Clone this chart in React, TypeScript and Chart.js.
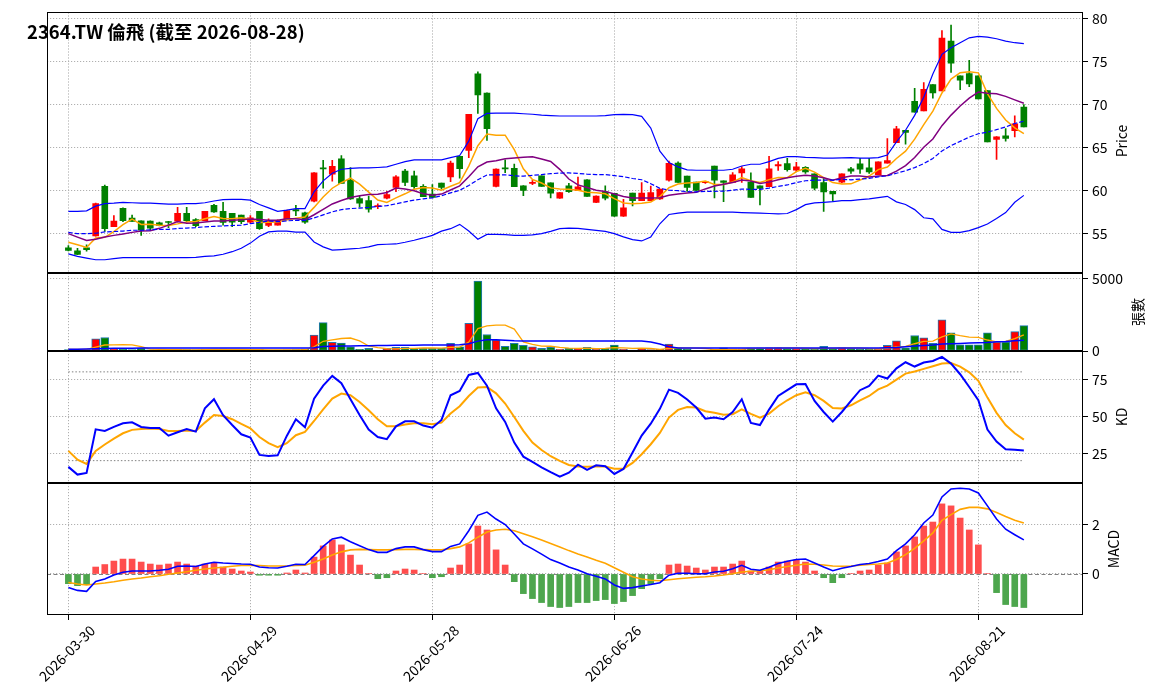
import { useEffect, useRef } from 'react';
import { Chart, registerables } from 'chart.js';

Chart.register(...registerables);

// ---- values ----
const TICKER = '2364.TW';
const NAME = '倫飛';
const START_DATE = '2026-03-30';
const HOLIDAYS = ['2026-04-03', '2026-04-06', '2026-05-01', '2026-06-19'];
const SESSIONS = 106;

function tradingDays(): string[] {
  const out: string[] = [];
  const d = new Date(START_DATE + 'T00:00:00Z');
  while (out.length < SESSIONS) {
    const iso = d.toISOString().slice(0, 10);
    const wd = d.getUTCDay();
    if (wd !== 0 && wd !== 6 && !HOLIDAYS.includes(iso)) out.push(iso);
    d.setUTCDate(d.getUTCDate() + 1);
  }
  return out;
}
const dates = tradingDays();

const opens = [
  53.35, 53.0, 53.35, 54.73, 60.5, 55.8, 57.96, 56.8, 56.5, 56.46,
  56.27, 56.4, 56.46, 57.38, 56.65, 56.5, 58.3, 57.6, 57.38, 57.15,
  56.35, 57.6, 55.96, 56.0, 56.65, 57.8, 57.42, 58.77, 62.65, 61.92,
  63.7, 61.27, 59.08, 58.85, 58.15, 59.12, 60.38, 62.3, 61.73, 60.5,
  59.6, 60.88, 61.6, 64.0, 64.7, 73.6, 71.38, 60.49, 62.6, 62.6,
  60.58, 60.85, 61.73, 60.92, 59.12, 60.58, 60.0, 61.27, 58.65, 59.88,
  59.7, 57.04, 59.73, 58.85, 58.85, 59.04, 61.23, 63.23, 61.7, 61.0,
  60.95, 62.88, 61.15, 60.96, 62.08, 61.0, 60.58, 60.46, 62.9, 63.15,
  62.38, 62.73, 61.96, 60.96, 59.92, 61.0, 62.54, 63.12, 62.65, 61.88,
  63.2, 65.58, 67.04, 70.42, 69.3, 72.35, 71.62, 77.42, 73.38, 73.65,
  73.38, 71.65, 65.96, 66.38, 67.0, 69.73,
];
const highs = [
  53.6, 53.3, 53.7, 58.55, 60.65, 57.1, 58.0, 57.15, 56.5, 56.5,
  56.35, 56.45, 58.08, 58.08, 56.77, 57.6, 58.42, 58.65, 57.38, 57.15,
  57.1, 57.6, 56.73, 56.6, 57.75, 58.3, 57.5, 62.1, 63.54, 63.54,
  64.1, 62.7, 59.38, 59.38, 58.46, 59.92, 61.77, 62.5, 62.3, 60.7,
  60.7, 60.9, 63.46, 64.0, 68.9, 73.85, 71.4, 62.55, 63.6, 63.1,
  60.6, 61.2, 61.73, 60.92, 59.8, 60.85, 61.6, 61.3, 59.4, 60.58,
  59.7, 59.0, 59.73, 60.96, 60.54, 60.2, 63.46, 63.35, 61.7, 61.0,
  61.1, 62.88, 61.15, 62.1, 62.8, 62.08, 60.58, 64.0, 63.4, 63.77,
  63.3, 62.8, 61.96, 61.46, 59.92, 61.96, 62.73, 63.77, 63.77, 63.35,
  66.08, 67.5, 67.04, 71.92, 72.58, 72.35, 78.65, 79.27, 73.38, 75.19,
  73.38, 71.65, 66.3, 67.23, 68.73, 70.04,
];
const lows = [
  53.0, 52.55, 52.96, 54.7, 55.27, 55.8, 56.4, 56.42, 54.8, 55.4,
  55.9, 55.7, 56.35, 56.4, 55.8, 56.5, 57.46, 56.0, 55.8, 56.15,
  56.2, 55.5, 55.8, 56.0, 56.6, 57.1, 56.2, 58.7, 60.3, 61.1,
  60.85, 59.0, 58.08, 57.5, 57.92, 59.04, 59.88, 60.58, 60.27, 59.3,
  59.2, 60.19, 61.04, 61.46, 63.85, 69.0, 65.85, 60.45, 62.1, 60.46,
  59.42, 60.7, 60.5, 59.15, 59.1, 59.8, 60.0, 59.35, 58.6, 58.92,
  57.0, 57.0, 58.23, 58.85, 58.85, 59.0, 61.1, 60.96, 59.92, 60.04,
  60.85, 59.15, 58.73, 60.96, 60.96, 59.23, 58.35, 60.46, 62.35, 62.27,
  62.23, 62.0, 60.1, 57.6, 58.77, 60.9, 62.0, 62.0, 62.0, 61.88,
  63.2, 65.58, 65.42, 69.15, 69.3, 70.77, 71.62, 73.77, 71.77, 72.12,
  70.69, 65.69, 63.65, 65.77, 66.27, 67.42,
];
const closes = [
  53.04, 52.58, 53.15, 58.5, 55.58, 56.46, 56.5, 56.42, 55.42, 55.65,
  55.96, 56.3, 57.38, 56.5, 55.92, 57.6, 57.54, 56.3, 56.35, 56.4,
  56.85, 55.58, 56.46, 56.54, 57.7, 57.65, 56.35, 62.08, 62.54, 62.85,
  60.85, 59.04, 58.54, 57.85, 58.25, 59.54, 61.62, 60.96, 60.46, 59.3,
  59.23, 60.38, 63.23, 62.58, 68.88, 71.15, 67.23, 62.53, 62.54, 60.46,
  60.04, 60.95, 60.5, 59.7, 59.77, 59.88, 60.46, 59.35, 59.38, 59.12,
  57.04, 58.0, 58.85, 59.73, 59.77, 60.2, 63.2, 60.96, 60.38, 60.04,
  61.0, 61.23, 60.96, 61.85, 62.54, 59.23, 60.27, 62.54, 63.05, 62.46,
  62.77, 62.2, 60.3, 59.85, 59.62, 61.96, 62.27, 62.5, 62.2, 63.35,
  63.5, 67.2, 66.8, 69.15, 71.8, 71.38, 77.77, 74.85, 72.88, 72.42,
  70.69, 65.69, 66.27, 66.08, 67.8, 67.42,
];
const ma5 = [
  54.0, 53.7, 53.4, 54.5, 54.57, 55.25, 56.04, 56.69, 56.08, 56.09,
  55.99, 55.95, 56.14, 56.36, 56.41, 56.74, 56.99, 56.77, 56.74, 56.84,
  56.69, 56.3, 56.33, 56.37, 56.63, 56.79, 56.94, 58.06, 59.26, 60.29,
  60.93, 61.47, 60.76, 59.83, 58.91, 58.64, 59.16, 59.64, 60.17, 60.38,
  60.31, 60.07, 60.52, 60.94, 62.86, 65.24, 66.61, 66.47, 66.47, 64.78,
  62.56, 61.3, 60.9, 60.33, 60.19, 60.16, 60.06, 59.83, 59.77, 59.64,
  59.07, 58.58, 58.48, 58.55, 58.68, 59.31, 60.35, 60.77, 60.9, 60.96,
  61.12, 60.72, 60.72, 61.02, 61.52, 61.16, 60.97, 61.29, 61.53, 61.51,
  62.22, 62.6, 62.16, 61.52, 60.95, 60.79, 60.8, 61.24, 61.71, 62.46,
  62.76, 63.75, 64.61, 66.0, 67.69, 69.27, 71.38, 72.99, 73.74, 73.86,
  73.72, 71.31, 69.59, 68.23, 67.31, 66.65,
];
const ma10 = [
  55.0, 54.6, 54.2, 54.35, 54.6, 54.8, 54.95, 55.15, 55.3, 55.33,
  55.62, 55.99, 56.42, 56.22, 56.25, 56.37, 56.47, 56.46, 56.55, 56.63,
  56.71, 56.64, 56.55, 56.55, 56.73, 56.74, 56.62, 57.2, 57.82, 58.46,
  58.86, 59.21, 59.41, 59.55, 59.6, 59.79, 60.32, 60.2, 60.0, 59.64,
  59.48, 59.61, 60.08, 60.56, 61.62, 62.78, 63.34, 63.5, 63.71, 63.82,
  63.9, 63.96, 63.69, 63.4, 62.49, 61.36, 60.68, 60.37, 60.05, 59.92,
  59.62, 59.32, 59.16, 59.16, 59.16, 59.19, 59.46, 59.63, 59.73, 59.82,
  60.21, 60.54, 60.75, 60.96, 61.24, 61.14, 60.85, 61.0, 61.27, 61.51,
  61.69, 61.79, 61.72, 61.52, 61.23, 61.5, 61.7, 61.7, 61.61, 61.7,
  61.78, 62.28, 62.93, 63.86, 65.07, 66.02, 67.57, 68.8, 69.87, 70.78,
  71.49, 71.34, 71.29, 70.98, 70.58, 70.19,
];
const ma20 = [
  55.15, 55.0, 55.0, 55.05, 55.2, 55.25, 55.3, 55.4, 55.4, 55.45,
  55.5, 55.5, 55.6, 55.65, 55.7, 55.8, 55.85, 55.9, 55.95, 55.98,
  56.17, 56.32, 56.48, 56.39, 56.49, 56.55, 56.54, 56.83, 57.18, 57.54,
  57.79, 57.92, 57.98, 58.05, 58.17, 58.26, 58.47, 58.7, 58.91, 59.05,
  59.17, 59.41, 59.75, 60.05, 60.61, 61.28, 61.83, 61.85, 61.85, 61.73,
  61.69, 61.79, 61.88, 61.98, 62.05, 62.07, 62.01, 61.93, 61.88, 61.87,
  61.76, 61.64, 61.42, 61.28, 60.82, 60.28, 60.07, 60.0, 59.89, 59.87,
  59.91, 59.93, 59.95, 60.06, 60.2, 60.16, 60.16, 60.31, 60.5, 60.67,
  60.95, 61.16, 61.23, 61.24, 61.23, 61.32, 61.27, 61.35, 61.44, 61.61,
  61.73, 62.03, 62.32, 62.69, 63.15, 63.76, 64.63, 65.25, 65.74, 66.24,
  66.63, 66.81, 67.11, 67.42, 67.83, 68.1,
];
const bbUpper = [
  57.6, 57.6, 57.65, 58.2, 58.5, 58.55, 58.65, 58.6, 58.55, 58.55,
  58.5, 58.45, 58.45, 58.5, 58.5, 58.6, 58.8, 58.96, 59.0, 59.0,
  58.9, 58.4, 58.0, 57.6, 57.73, 57.92, 57.92, 59.88, 61.15, 62.04,
  62.5, 62.6, 62.65, 62.65, 62.7, 62.77, 63.08, 63.38, 63.58, 63.6,
  63.6, 63.6, 63.85, 64.1, 65.77, 68.38, 69.0, 69.04, 69.04, 69.04,
  68.96, 68.9, 68.8, 68.75, 68.7, 68.7, 68.7, 68.7, 68.7, 68.75,
  68.85, 68.88, 68.85, 68.65, 67.3, 64.6, 63.27, 62.77, 62.42, 62.38,
  62.38, 62.38, 62.38, 62.5, 62.88, 63.08, 63.08, 63.38, 63.77, 63.96,
  63.96, 63.88, 63.85, 63.8, 63.8, 63.82, 63.85, 63.8, 63.8, 63.85,
  64.15, 65.69, 67.04, 68.77, 70.88, 73.58, 75.88, 76.65, 77.23, 77.8,
  77.96, 77.88, 77.69, 77.42, 77.23, 77.12,
];
const bbLower = [
  52.65, 52.35, 52.15, 51.96, 51.96, 52.1, 52.2, 52.2, 52.2, 52.2,
  52.2, 52.2, 52.2, 52.2, 52.25, 52.35, 52.42, 52.6, 52.9, 53.3,
  53.9, 54.7, 55.2, 55.3, 55.3, 55.19, 55.19, 54.04, 53.46, 53.08,
  53.15, 53.23, 53.3, 53.46, 53.73, 53.77, 53.8, 54.0, 54.23, 54.5,
  54.8, 55.3, 55.58, 56.08, 55.3, 54.35, 54.92, 54.92, 54.88, 54.8,
  54.8, 54.85, 55.0, 55.27, 55.58, 55.65, 55.62, 55.5, 55.38, 55.27,
  55.0, 54.62, 54.3, 54.15, 54.62, 56.15, 57.23, 57.38, 57.5, 57.5,
  57.5, 57.5, 57.5, 57.5, 57.46, 57.42, 57.38, 57.35, 57.3, 57.35,
  57.8, 58.38, 58.58, 58.65, 58.73, 58.85, 58.85, 58.96, 59.04, 59.2,
  59.35, 58.7, 58.4, 57.8, 56.85, 56.73, 55.5, 55.15, 55.15, 55.35,
  55.7, 56.12, 56.77, 57.46, 58.65, 59.46,
];

// 張數
const volumes = [
  90, 110, 100, 845, 935, 160, 120, 90, 180, 80,
  60, 70, 110, 100, 80, 120, 140, 130, 90, 70,
  60, 110, 70, 60, 80, 90, 130, 1094, 1960, 593,
  547, 296, 115, 180, 40, 180, 250, 250, 180, 180,
  180, 180, 525, 296, 1915, 4834, 1140, 752, 319, 525,
  388, 296, 180, 250, 115, 180, 180, 250, 115, 180,
  410, 115, 70, 180, 90, 115, 480, 205, 137, 30,
  20, 115, 228, 137, 137, 205, 205, 228, 228, 160,
  160, 160, 115, 320, 160, 228, 160, 115, 137, 115,
  388, 707, 228, 1070, 912, 525, 2166, 1254, 433, 433,
  433, 1254, 615, 615, 1345, 1755,
];
const volMa5 = [
  114, 114, 114, 274, 416, 430, 432, 430, 297, 126,
  106, 96, 100, 84, 84, 96, 110, 114, 112, 110,
  98, 92, 80, 74, 76, 78, 86, 291, 671, 773,
  865, 898, 702, 346, 236, 162, 153, 180, 180, 208,
  208, 194, 249, 272, 619, 1550, 1742, 1787, 1792, 1514,
  625, 456, 342, 328, 246, 204, 181, 195, 168, 181,
  227, 214, 178, 191, 173, 114, 187, 214, 205, 193,
  174, 101, 106, 106, 127, 164, 182, 182, 201, 205,
  196, 187, 165, 183, 183, 197, 197, 197, 160, 151,
  183, 292, 315, 502, 661, 688, 980, 1185, 1058, 962,
  944, 761, 634, 670, 852, 1117,
];
const volMa20 = [
  114, 120, 130, 150, 170, 182, 190, 195, 200, 205,
  205, 205, 205, 205, 205, 205, 205, 205, 205, 205,
  205, 205, 205, 205, 205, 205, 205, 228, 319, 330,
  342, 350, 360, 370, 380, 388, 400, 405, 405, 410,
  410, 410, 420, 433, 502, 684, 775, 775, 752, 707,
  690, 690, 690, 690, 690, 690, 690, 690, 690, 690,
  690, 690, 690, 690, 616, 479, 296, 205, 205, 205,
  205, 205, 205, 205, 205, 205, 205, 205, 205, 205,
  205, 205, 205, 205, 205, 205, 205, 205, 205, 205,
  228, 250, 296, 342, 388, 410, 479, 502, 524, 547,
  570, 593, 638, 661, 707, 752,
];

const kLine = [
  15.8, 10.6, 11.7, 41.2, 40.1, 42.8, 45.3, 45.9, 42.8, 42.1,
  42.1, 36.9, 39.2, 41.4, 39.6, 55.4, 61.5, 50.7, 44.1, 37.8,
  35.6, 23.9, 23.2, 23.6, 36.7, 48.0, 42.6, 61.9, 70.7, 77.3,
  72.3, 61.5, 50.9, 41.0, 36.0, 34.5, 43.2, 46.6, 46.6, 43.7,
  42.3, 47.5, 64.2, 67.1, 77.9, 79.3, 70.7, 55.4, 46.2, 32.2,
  22.7, 19.1, 15.5, 12.2, 9.2, 11.9, 17.3, 13.7, 16.9, 16.2,
  11.0, 14.4, 25.5, 36.9, 45.0, 55.0, 68.0, 65.8, 61.3, 55.9,
  48.4, 49.1, 48.0, 52.9, 61.5, 45.5, 44.1, 54.5, 63.7, 67.6,
  71.6, 71.8, 60.4, 52.9, 46.4, 52.9, 60.4, 67.6, 70.5, 77.5,
  75.5, 82.4, 86.5, 83.6, 86.3, 87.4, 90.1, 85.6, 78.4, 69.8,
  60.8, 41.0, 32.9, 27.7, 27.3, 26.8,
];
const dLine = [
  26.6, 20.7, 17.8, 26.6, 30.9, 34.9, 38.5, 40.8, 41.4, 41.7,
  41.4, 40.1, 40.1, 40.3, 40.1, 45.7, 50.9, 50.2, 48.0, 44.8,
  41.9, 36.0, 31.8, 29.1, 31.8, 37.2, 39.4, 46.8, 54.7, 61.9,
  65.3, 64.2, 59.7, 54.1, 48.0, 43.2, 43.2, 44.4, 45.3, 45.3,
  44.6, 45.7, 51.8, 56.8, 63.7, 69.4, 69.8, 65.5, 58.6, 49.5,
  40.1, 32.2, 27.2, 23.0, 19.8, 17.1, 16.0, 15.8, 16.0, 16.0,
  14.6, 14.6, 18.5, 24.3, 31.1, 38.7, 49.1, 54.3, 56.3, 55.9,
  53.4, 52.3, 51.1, 51.4, 54.7, 51.6, 49.1, 51.8, 56.8, 60.8,
  64.2, 66.2, 64.2, 60.4, 55.6, 55.2, 57.4, 60.8, 63.7, 68.2,
  70.7, 74.8, 78.8, 80.2, 82.0, 83.8, 85.6, 86.0, 83.6, 79.7,
  73.9, 62.6, 52.3, 44.1, 38.5, 34.2,
];
const kdLevels = [80, 20];

const dif = [
  -0.54, -0.66, -0.7, -0.3, -0.2, -0.04, 0.07, 0.12, 0.12, 0.12,
  0.15, 0.19, 0.31, 0.32, 0.3, 0.4, 0.47, 0.44, 0.42, 0.4,
  0.39, 0.28, 0.25, 0.24, 0.31, 0.39, 0.38, 0.74, 1.11, 1.41,
  1.48, 1.3, 1.14, 0.98, 0.87, 0.87, 1.02, 1.09, 1.09, 0.98,
  0.9, 0.9, 1.11, 1.21, 1.74, 2.36, 2.49, 2.21, 1.99, 1.61,
  1.21, 1.01, 0.8, 0.58, 0.44, 0.28, 0.16, 0.01, -0.09, -0.2,
  -0.44, -0.58, -0.55, -0.48, -0.42, -0.35, -0.05, 0.03, 0.03, 0.01,
  0.01, 0.08, 0.11, 0.21, 0.35, 0.19, 0.15, 0.27, 0.42, 0.51,
  0.58, 0.6, 0.44, 0.28, 0.13, 0.23, 0.3, 0.38, 0.42, 0.5,
  0.6, 0.94, 1.21, 1.58, 2.05, 2.37, 3.1, 3.42, 3.45, 3.42,
  3.26, 2.74, 2.21, 1.8, 1.58, 1.37,
];
const dea = [
  -0.34, -0.4, -0.44, -0.4, -0.36, -0.31, -0.25, -0.2, -0.16, -0.11,
  -0.07, -0.01, 0.04, 0.09, 0.15, 0.2, 0.24, 0.27, 0.31, 0.34,
  0.35, 0.34, 0.32, 0.32, 0.32, 0.34, 0.35, 0.47, 0.6, 0.76,
  0.89, 0.97, 0.99, 0.98, 0.97, 0.97, 0.98, 0.99, 0.99, 0.98,
  0.97, 0.97, 1.02, 1.09, 1.25, 1.48, 1.69, 1.77, 1.8, 1.74,
  1.62, 1.5, 1.37, 1.23, 1.09, 0.94, 0.8, 0.68, 0.55, 0.43,
  0.25, 0.07, -0.11, -0.2, -0.25, -0.27, -0.23, -0.19, -0.16, -0.13,
  -0.11, -0.08, -0.04, 0.01, 0.08, 0.11, 0.13, 0.17, 0.24, 0.3,
  0.35, 0.4, 0.39, 0.36, 0.32, 0.31, 0.32, 0.35, 0.38, 0.4,
  0.44, 0.58, 0.78, 1.03, 1.33, 1.65, 2.16, 2.39, 2.6, 2.68,
  2.68, 2.62, 2.47, 2.31, 2.16, 2.05,
];
const osc = [
  -0.39, -0.47, -0.43, 0.28, 0.38, 0.52, 0.6, 0.6, 0.48, 0.4,
  0.36, 0.4, 0.48, 0.4, 0.32, 0.4, 0.44, 0.28, 0.2, 0.12,
  0.08, -0.05, -0.05, -0.05, 0.04, 0.16, 0.04, 0.68, 1.13, 1.37,
  1.17, 0.76, 0.36, 0.02, -0.19, -0.15, 0.12, 0.2, 0.16, 0.02,
  -0.15, -0.11, 0.24, 0.36, 1.21, 1.93, 1.77, 0.97, 0.36, -0.31,
  -0.79, -0.99, -1.15, -1.31, -1.35, -1.31, -1.15, -1.15, -1.07, -1.03,
  -1.19, -1.11, -0.87, -0.59, -0.39, -0.19, 0.36, 0.4, 0.32, 0.24,
  0.16, 0.28, 0.28, 0.4, 0.52, 0.12, 0.12, 0.28, 0.48, 0.52,
  0.56, 0.48, 0.12, -0.15, -0.35, -0.15, 0.02, 0.12, 0.16, 0.36,
  0.44, 0.89, 1.13, 1.49, 1.93, 2.09, 2.82, 2.74, 2.25, 1.77,
  1.17, 0.02, -0.75, -1.23, -1.31, -1.35,
];

const xTickIdx = [0, 20, 40, 60, 80, 100];
const priceTicks = [55, 60, 65, 70, 75, 80];
const volTicks = [0, 5000];
const kdTicks = [25, 50, 75];
const macdTicks = [0, 2];

// ---- layout / style ----
const W = 1155;
const H = 699;
const PLOT_LEFT = 47;
const AXIS_W = 72;
const X_MIN = -2.35;
const X_MAX = 111.5;
const FONT = "'Noto Sans CJK TC', 'Noto Sans', sans-serif";
const GRID = '#b0b0b0';
const GRID_DASH = [1.2, 1.8];
const UP = '#ff0000';
const DOWN = '#008000';

const isUp = (i: number) => closes[i] >= opens[i];
const candleColors = closes.map((_, i) => (isUp(i) ? UP : DOWN));

const series = (values: number[]) => values.map((y, x) => ({ x, y }));

const lineSet = (values: number[], color: string, width: number, dash: number[] = []) => ({
  type: 'line' as const,
  data: series(values),
  borderColor: color,
  borderWidth: width,
  borderDash: dash,
  pointRadius: 0,
  tension: 0,
  fill: false,
  order: 1,
});

const barSet = (pairs: (number | number[])[], colors: string | string[], thickness: number, order: number, extra = {}) => ({
  type: 'bar' as const,
  data: pairs.map((y, x) => ({ x, y })),
  backgroundColor: colors,
  barThickness: thickness,
  grouped: false,
  borderWidth: 0,
  order,
  ...extra,
});

const framePlugin = {
  id: 'frame',
  afterDatasetsDraw(chart: any) {
    const { ctx, chartArea: a } = chart;
    ctx.save();
    ctx.strokeStyle = '#000';
    ctx.lineWidth = 1;
    ctx.strokeRect(Math.round(a.left) + 0.5, Math.round(a.top) + 0.5, Math.round(a.right - a.left) - 1, Math.round(a.bottom - a.top) - 1);
    ctx.restore();
  },
};

const zeroLinePlugin = {
  id: 'zeroLine',
  beforeDatasetsDraw(chart: any) {
    const { ctx, chartArea: a, scales } = chart;
    const y = Math.round(scales.y.getPixelForValue(0)) + 0.5;
    ctx.save();
    ctx.strokeStyle = '#808080';
    ctx.lineWidth = 1;
    ctx.setLineDash([4, 2.5]);
    ctx.beginPath();
    ctx.moveTo(a.left, y);
    ctx.lineTo(a.right, y);
    ctx.stroke();
    ctx.restore();
  },
};

interface PanelCfg {
  top: number;
  bottom: number;
  min: number;
  max: number;
  ticks: number[];
  showX: boolean;
  datasets: any[];
  extra?: any[];
}

function makeChart(canvas: HTMLCanvasElement, cfg: PanelCfg) {
  const grid = { color: GRID, lineWidth: 1, tickLength: 5, tickColor: '#000', tickWidth: 1, tickBorderDash: [], offset: false };
  return new Chart(canvas, {
    type: 'bar',
    data: { datasets: cfg.datasets },
    options: {
      responsive: false,
      animation: false,
      events: [],
      layout: { padding: { left: PLOT_LEFT, right: 0, top: cfg.top, bottom: cfg.showX ? 0 : H - cfg.bottom } },
      plugins: { legend: { display: false }, tooltip: { enabled: false } },
      scales: {
        x: {
          type: 'linear',
          min: X_MIN,
          max: X_MAX,
          offset: false,
          afterBuildTicks: (s: any) => { s.ticks = xTickIdx.map((value) => ({ value })); },
          afterFit: (s: any) => { s.height = cfg.showX ? H - cfg.bottom : 0; },
          grid: { ...grid, drawTicks: cfg.showX },
          border: { display: false, dash: GRID_DASH },
          ticks: {
            display: cfg.showX,
            autoSkip: false,
            minRotation: 45,
            maxRotation: 45,
            padding: 2,
            labelOffset: 24,
            color: '#000',
            font: { family: FONT, size: 14 },
            callback: (v: any) => dates[Number(v)] ?? '',
          },
        },
        y: {
          type: 'linear',
          position: 'right',
          min: cfg.min,
          max: cfg.max,
          afterBuildTicks: (s: any) => { s.ticks = cfg.ticks.map((value) => ({ value })); },
          afterFit: (s: any) => { s.width = AXIS_W; },
          grid: { ...grid, drawTicks: true },
          border: { display: false, dash: GRID_DASH },
          ticks: { padding: 4, color: '#000', font: { family: FONT, size: 14 }, callback: (v: any) => String(v) },
        },
      },
    } as any,
    plugins: [framePlugin, ...(cfg.extra ?? [])],
  });
}

const axisLabels = [
  { text: 'Price', x: 1121, y: 141 },
  { text: '張數', x: 1137, y: 312 },
  { text: 'KD', x: 1121, y: 417 },
  { text: 'MACD', x: 1113, y: 549 },
];

export default function App() {
  const priceRef = useRef<HTMLCanvasElement>(null);
  const volRef = useRef<HTMLCanvasElement>(null);
  const kdRef = useRef<HTMLCanvasElement>(null);
  const macdRef = useRef<HTMLCanvasElement>(null);

  useEffect(() => {
    if (!priceRef.current || !volRef.current || !kdRef.current || !macdRef.current) return;

    const wicks = lows.map((l, i) => [l, highs[i]]);
    const bodies = opens.map((o, i) => [o, closes[i]]);

    const charts = [
      makeChart(priceRef.current, {
        top: 10, bottom: 273, min: 50.42, max: 80.76, ticks: priceTicks, showX: false,
        datasets: [
          lineSet(bbUpper, '#0000ff', 1.2),
          lineSet(bbLower, '#0000ff', 1.2),
          lineSet(ma20, '#0000ff', 1.2, [4.5, 2]),
          lineSet(ma10, '#800080', 1.5),
          lineSet(ma5, '#ffa500', 1.5),
          barSet(bodies, candleColors, 6, 5, { minBarLength: 1 }),
          barSet(wicks, candleColors, 1, 6),
        ],
      }),
      makeChart(volRef.current, {
        top: 273, bottom: 351, min: 0, max: 5400, ticks: volTicks, showX: false,
        datasets: [
          lineSet(volMa20, '#0000ff', 1.5),
          lineSet(volMa5, '#ffa500', 1.3),
          barSet(volumes, candleColors, 8, 5, { borderWidth: 1, borderColor: '#1f77b4', borderSkipped: false }),
        ],
      }),
      makeChart(kdRef.current, {
        top: 351, bottom: 483, min: 4.9, max: 94.1, ticks: kdTicks, showX: false,
        datasets: [
          lineSet(kLine, '#0000ff', 2),
          lineSet(dLine, '#ffa500', 2),
          ...kdLevels.map((lv) => ({
            type: 'line' as const,
            data: [{ x: 0, y: lv }, { x: dates.length - 1, y: lv }],
            borderColor: '#808080',
            borderWidth: 1,
            borderDash: [1.5, 2],
            pointRadius: 0,
            order: 3,
          })),
        ],
      }),
      makeChart(macdRef.current, {
        top: 483, bottom: 615, min: -1.65, max: 3.66, ticks: macdTicks, showX: true,
        datasets: [
          lineSet(dif, '#0000ff', 1.6),
          lineSet(dea, '#ffa500', 1.6),
          barSet(osc, osc.map((v) => (v >= 0 ? '#ff4d4d' : '#4da64d')), 6, 5),
        ],
        extra: [zeroLinePlugin],
      }),
    ];

    return () => charts.forEach((c) => c.destroy());
  }, []);

  const canvasStyle: React.CSSProperties = { position: 'absolute', left: 0, top: 0, width: W, height: H };

  return (
    <div style={{ position: 'fixed', left: 0, top: 0, width: W, height: H, background: '#fff', overflow: 'hidden', fontFamily: FONT }}>
      <canvas ref={priceRef} width={W} height={H} style={canvasStyle} />
      <canvas ref={volRef} width={W} height={H} style={canvasStyle} />
      <canvas ref={kdRef} width={W} height={H} style={canvasStyle} />
      <canvas ref={macdRef} width={W} height={H} style={canvasStyle} />
      <div style={{ position: 'absolute', left: 27, top: 20, fontSize: 18.5, lineHeight: '22px', fontWeight: 'bold', color: '#000', whiteSpace: 'nowrap' }}>
        {`${TICKER} ${NAME} (截至 ${dates[dates.length - 1]})`}
      </div>
      {axisLabels.map((l) => (
        <div
          key={l.text}
          style={{
            position: 'absolute', left: l.x, top: l.y, fontSize: 14, color: '#000', whiteSpace: 'nowrap',
            transform: 'translate(-50%, -50%) rotate(-90deg)',
          }}
        >
          {l.text}
        </div>
      ))}
    </div>
  );
}
